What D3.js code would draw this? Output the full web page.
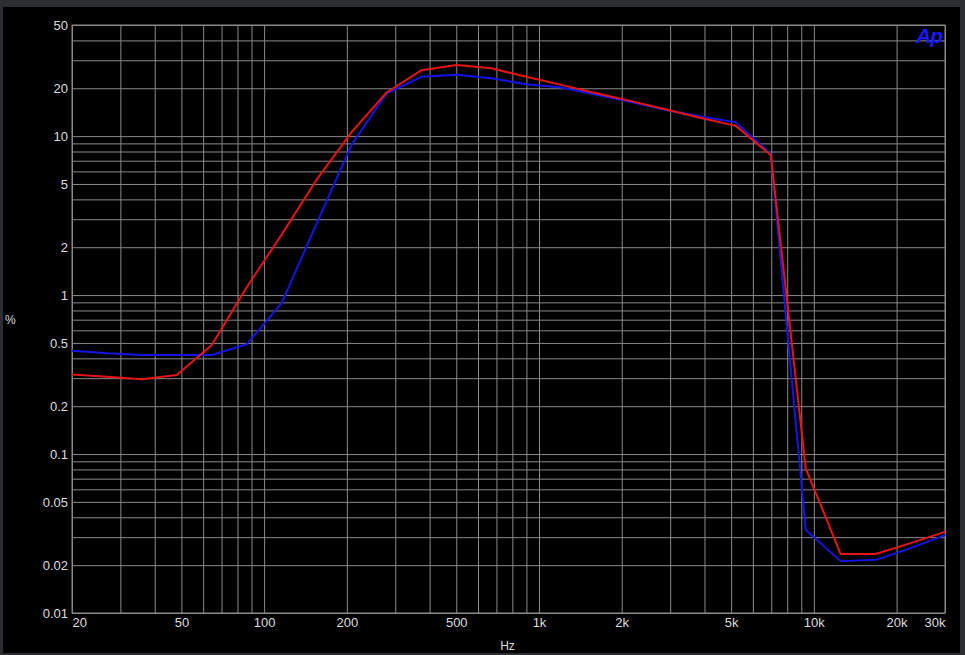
<!DOCTYPE html>
<html>
<head>
<meta charset="utf-8">
<script src="https://cdn.jsdelivr.net/npm/d3@7"></script>
<style>
    html, body { margin: 0; padding: 0; background: #2b2d31; }
    svg { display: block; }
    text { font-family: "Liberation Sans", Arial, sans-serif; }
</style>
</head>
<body>
<svg id="svg"></svg>
<script>
// measurement frequencies (Hz), 26 log steps 20 Hz .. 30 kHz
const freqs = [20, 26.8, 35.9, 48.1, 64.5, 86.4, 115.8, 155, 208, 279, 374, 501, 671, 899,
    1205, 1614, 2163, 2898, 3883, 5204, 6973, 9344, 12521, 16778, 22482, 30126];

// THD+N in % per channel
const blueValues = [0.446, 0.43, 0.42, 0.42, 0.42, 0.49, 0.89, 2.8, 8.8, 18.6, 23.6, 24.3, 23.1, 21.2,
    20.2, 18.2, 16.4, 14.6, 13.3, 12.2, 7.7, 0.0333, 0.0212, 0.0216, 0.0256, 0.031];
const redValues = [0.317, 0.306, 0.295, 0.314, 0.485, 1.12, 2.4, 5.3, 10.6, 18.8, 26.0, 28.0, 26.7, 23.6,
    21.0, 18.6, 16.6, 14.7, 13.0, 11.6, 7.6, 0.0813, 0.0235, 0.0235, 0.0275, 0.0325];

const xTickValues = [20, 50, 100, 200, 500, 1000, 2000, 5000, 10000, 20000, 30000];
const xTickLabels = ["20", "50", "100", "200", "500", "1k", "2k", "5k", "10k", "20k", "30k"];
const yTickValues = [0.01, 0.02, 0.05, 0.1, 0.2, 0.5, 1, 2, 5, 10, 20, 50];
const yTickLabels = ["0.01", "0.02", "0.05", "0.1", "0.2", "0.5", "1", "2", "5", "10", "20", "50"];

const width = 965;
const height = 655;
const margin = { top: 25, right: 20, bottom: 42, left: 72 };
const chartWidth = width - margin.left - margin.right;
const chartHeight = height - margin.top - margin.bottom;

const gridColor = "#8a8a8a";
const labelColor = "#dedede";

let svg = d3.select("#svg")
    .attr("width", width)
    .attr("height", height);

// black panel inside the dark window frame
svg.append("rect")
    .attr("x", 3).attr("y", 7)
    .attr("width", 957).attr("height", 646)
    .attr("fill", "#000");

let chart = svg.append("g")
    .attr("transform", "translate(" + margin.left + "," + margin.top + ")");

let xScale = d3.scaleLog()
    .domain([20, 30000])
    .range([0, chartWidth]);

let yScale = d3.scaleLog()
    .domain([0.01, 50])
    .range([chartHeight, 0]);

// every 1..9 multiple of each decade gets a grid line
function logGrid(lo, hi) {
    let out = [];
    for (let e = Math.floor(Math.log10(lo)); e <= Math.ceil(Math.log10(hi)); e++) {
        for (let m = 1; m < 10; m++) {
            let v = +(m * Math.pow(10, e)).toPrecision(3);
            if (v >= lo && v <= hi) out.push(v);
        }
    }
    return out;
}

// vertical grid
chart.append("g")
    .attr("class", "x-grid")
    .attr("transform", `translate(0,${chartHeight})`)
    .call(d3.axisBottom(xScale).tickValues(logGrid(20, 30000)).tickSize(-chartHeight).tickFormat(""))
    .call(g => g.select(".domain").remove())
    .selectAll("line")
    .attr("stroke", gridColor);

// horizontal grid
chart.append("g")
    .attr("class", "y-grid")
    .call(d3.axisLeft(yScale).tickValues(logGrid(0.01, 50)).tickSize(-chartWidth).tickFormat(""))
    .call(g => g.select(".domain").remove())
    .selectAll("line")
    .attr("stroke", gridColor);

// plot border
chart.append("rect")
    .attr("width", chartWidth)
    .attr("height", chartHeight)
    .attr("fill", "none")
    .attr("stroke", gridColor);

// x labels
let xAxis = chart.append("g")
    .attr("class", "x-axis")
    .attr("transform", `translate(0,${chartHeight})`)
    .call(d3.axisBottom(xScale).tickValues(xTickValues).tickSize(0).tickPadding(5)
        .tickFormat((d, i) => xTickLabels[i]));
xAxis.select(".domain").remove();
xAxis.selectAll("text")
    .attr("fill", labelColor)
    .style("font-size", "13px")
    .attr("text-anchor", (d, i) => i === 0 ? "start" : (i === xTickValues.length - 1 ? "end" : "middle"));

// y labels
let yAxis = chart.append("g")
    .attr("class", "y-axis")
    .call(d3.axisLeft(yScale).tickValues(yTickValues).tickSize(0).tickPadding(4)
        .tickFormat((d, i) => yTickLabels[i]));
yAxis.select(".domain").remove();
yAxis.selectAll("text")
    .attr("fill", labelColor)
    .style("font-size", "13px");

// axis units
svg.append("text")
    .attr("x", margin.left + chartWidth / 2 - 1)
    .attr("y", 650)
    .attr("text-anchor", "middle")
    .attr("fill", labelColor)
    .style("font-size", "12px")
    .text("Hz");

svg.append("text")
    .attr("x", 5)
    .attr("y", 324)
    .attr("fill", labelColor)
    .style("font-size", "12px")
    .text("%");

// traces
const line = d3.line()
    .x(d => xScale(d.f))
    .y(d => yScale(d.v));

function drawTrace(values, color) {
    chart.append("path")
        .datum(freqs.map((f, i) => ({ f: f, v: values[i] })))
        .attr("fill", "none")
        .attr("stroke", color)
        .attr("stroke-width", 2)
        .attr("stroke-linejoin", "round")
        .attr("d", line);
}

drawTrace(blueValues, "#1414e6");
drawTrace(redValues, "#e61414");

// Ap logo
svg.append("text")
    .attr("x", 916)
    .attr("y", 43)
    .attr("fill", "#1a1aff")
    .style("font-size", "21px")
    .style("font-weight", "bold")
    .style("font-style", "italic")
    .style("letter-spacing", "-1px")
    .text("Ap");
</script>
</body>
</html>
